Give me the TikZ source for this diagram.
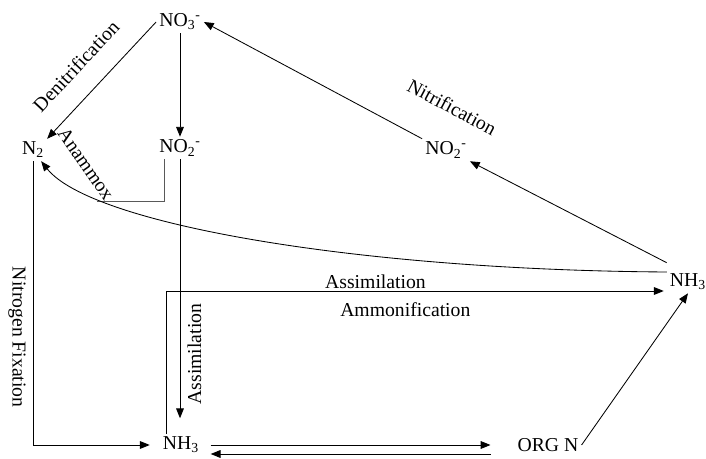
\documentclass[tikz,border=0pt]{standalone}
\usepackage{fontspec}
\setmainfont{Liberation Serif}
\usetikzlibrary{arrows.meta}

\begin{document}
\begin{tikzpicture}
        [->, >={Triangle[length=7pt,width=5.5pt]}, x=0.025cm, y=-0.025cm, semithick,
         chem/.style={inner sep=2pt, font=\fontsize{14}{16}\selectfont},
         lbl/.style={inner sep=1pt, font=\fontsize{14}{16}\selectfont}]
        \useasboundingbox (0,0) rectangle (706,459);

        \node[chem] (no3) at (180,22) {NO\textsubscript{3}\textsuperscript{-}};
        \node[chem] (no2a) at (180,148) {NO\textsubscript{2}\textsuperscript{-}};
        \node[chem] (n2) at (33,150) {N\textsubscript{2}};
        \node[chem] (no2b) at (446,150) {NO\textsubscript{2}\textsuperscript{-}};
        \node[chem] (nh3a) at (688,282) {NH\textsubscript{3}};
        \node[chem] (nh3b) at (181,445) {NH\textsubscript{3}};
        \node[chem] (orgn) at (548,445) {ORG N};
        \coordinate (anxend) at (97,201);

        \draw (no3.west) -- (n2.north east);
        \node[lbl, rotate=47] (denitri) at (76,66) {Denitrification};
        \draw (no3.south -| no3) -- (no2a.north -| no3);
        \draw[-, black!65] ([shift={(8,0)}]no2a.south west) |- (anxend);
        \node[lbl, rotate=-55] (anammox) at (86,164) {Anammox};
        \draw (no2b.north west) -- (no3.east);
        \node[lbl, rotate=-28] (nitri) at (452,107) {Nitrification};
        \draw ([shift={(0,-8)}]nh3a.north west) -- (no2b.south east);
        \draw ([shift={(0,-10)}]nh3a.west) .. controls +(-310,-2) and +(50,63) .. ([shift={(-6,0)}]n2.south east);
        \draw (n2.south) |- node[lbl, pos=0.31, rotate=-90, below=4pt] {Nitrogen Fixation} ([shift={(-10,0)}]nh3b.west);
        \draw[shorten >=11pt] (no2a.south -| no3) -- node[lbl, pos=0.71, rotate=90, below=4pt] {Assimilation} (nh3b.north -| no3);
        \draw ([shift={(7,0)}]nh3b.north west) |- node[lbl, pos=0.71, above] {Assimilation}
              node[lbl, pos=0.74, below=7pt] {Ammonification} ([shift={(-3,9)}]nh3a.west);
        \draw[shorten <=6pt, shorten >=17pt] (nh3b.east) -- (nh3b.east -| orgn.west);
        \draw[shorten <=17pt, shorten >=6pt] ([shift={(0,9)}]orgn.west) -- ([shift={(0,9)}]orgn.west -| nh3b.east);
        \draw (orgn.east) -- (nh3a.south);
    \end{tikzpicture}
\end{document}
